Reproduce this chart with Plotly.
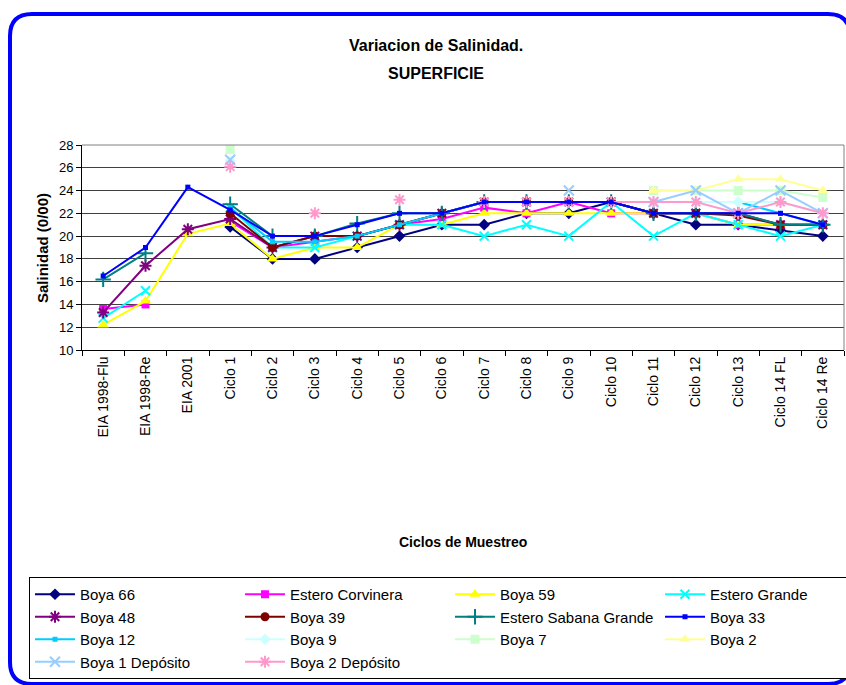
import plotly.graph_objects as go

categories = ["EIA 1998-Flu", "EIA 1998-Re", "EIA 2001", "Ciclo 1", "Ciclo 2", "Ciclo 3",
              "Ciclo 4", "Ciclo 5", "Ciclo 6", "Ciclo 7", "Ciclo 8", "Ciclo 9", "Ciclo 10",
              "Ciclo 11", "Ciclo 12", "Ciclo 13", "Ciclo 14 FL", "Ciclo 14 Re"]
N = None
boya_66 = [N, N, N, 20.8, 18, 18, 19, 20, 21, 21, 22, 22, 23, 22, 21, 21, 20.5, 20]
estero_corvinera = [13.6, 14, N, 21.3, 19, 19.5, 20, 21, 21.5, 22.5, 22, 23, 22, 22, 22, 21, 21, 21]
boya_59 = [12.2, 14.3, 20.2, 21.1, 18, 19, 19, 21, 21, 22, 22, 22, 22, 22, 22, 21, 21, 21]
estero_grande = [12.8, 15.2, N, 22.5, 19, 19, 20, 21, 21, 20, 21, 20, 23, 20, 22, 21, 20, 21]
boya_48 = [13.3, 17.4, 20.6, 21.5, 19, 20, 20, 21, 22, 23, 23, 23, 23, 22, 22, 22, 21, 21]
boya_39 = [N, N, N, 22, 19, 20, 20, 21, 22, 23, 23, 23, 23, 22, 22, 21.8, 21, 21]
estero_sabana_grande = [16.2, 18.5, N, 22.8, 20, 20, 21.1, 22, 22, 23, 23, 23, 23, 22, 22, 22, 21, 21]
boya_33 = [16.5, 19, 24.3, 22.3, 20, 20, 21, 22, 22, 23, 23, 23, 23, 22, 22, 22, 22, 21]
boya_12 = [N, N, N, 22.5, 19.5, 19.5, 20, 21, 22, 23, 23, 23, 23, 23, 23, 23, 22, 21]
boya_9 = [N, N, N, 26.6, N, N, N, N, N, N, N, N, N, 23, 23, 23, 23, 22]
boya_7 = [N, N, N, 27.6, N, N, N, N, N, N, N, N, N, 24, 24, 24, 24, 23.4]
boya_2 = [N, N, N, N, N, N, N, N, N, N, N, N, N, 24, 24, 25, 25, 24]
boya_1_deposito = [N, N, N, 26.7, N, N, N, N, N, N, N, 24, N, 23, 24, 22, 24, 22]
boya_2_deposito = [N, N, N, 26.1, N, 22, N, 23.2, N, 23, 23, 23, 23, 23, 23, 22, 23, 22]

series = [
    ("Boya 66", boya_66, "#000080", "diamond", 9),
    ("Estero Corvinera", estero_corvinera, "#FF00FF", "square", 8),
    ("Boya 59", boya_59, "#FFFF00", "triangle-up", 10),
    ("Estero Grande", estero_grande, "#00FFFF", "x-thin-open", 9),
    ("Boya 48", boya_48, "#800080", "asterisk-open", 10),
    ("Boya 39", boya_39, "#800000", "circle", 9),
    ("Estero Sabana Grande", estero_sabana_grande, "#008080", "cross-thin-open", 11),
    ("Boya 33", boya_33, "#0000FF", "square", 5),
    ("Boya 12", boya_12, "#00CCFF", "square", 5),
    ("Boya 9", boya_9, "#CCFFFF", "diamond", 9),
    ("Boya 7", boya_7, "#CCFFCC", "square", 9),
    ("Boya 2", boya_2, "#FFFF99", "triangle-up", 10),
    ("Boya 1 Depósito", boya_1_deposito, "#99CCFF", "x-thin-open", 10),
    ("Boya 2 Depósito", boya_2_deposito, "#FF99CC", "asterisk-open", 10),
]
# draw Boya 33 last (on top), keep legend order via legendrank
draw_order = [i for i in range(len(series)) if series[i][0] != "Boya 33"] + \
             [i for i in range(len(series)) if series[i][0] == "Boya 33"]

W, H = 846, 685
L, R, T, B = 82, 2, 145, 335
PW, PH = W - L - R, H - T - B

def px(x):
    return (x - L) / PW

def py(y):
    return (H - B - y) / PH

FONT = "Liberation Sans, Arial, sans-serif"

fig = go.Figure()
for i in draw_order:
    name, vals, color, sym, size = series[i]
    open_sym = sym.endswith("open")
    fig.add_trace(go.Scatter(
        x=categories, y=vals, name=name, mode="lines+markers",
        line=dict(color=color, width=2),
        marker=dict(symbol=sym, size=size, color=color,
                    line=dict(color=color, width=2 if open_sym else 0)),
        connectgaps=False, legendrank=1000 + i,
    ))

# outer rounded blue frame
l0, t0, r0, b0, rad = 10, 14, 850, 684, 22
path = (f"M {px(l0)},{py(t0 + rad)} Q {px(l0)},{py(t0)} {px(l0 + rad)},{py(t0)} "
        f"L {px(r0 - rad)},{py(t0)} Q {px(r0)},{py(t0)} {px(r0)},{py(t0 + rad)} "
        f"L {px(r0)},{py(b0 - rad)} Q {px(r0)},{py(b0)} {px(r0 - rad)},{py(b0)} "
        f"L {px(l0 + rad)},{py(b0)} Q {px(l0)},{py(b0)} {px(l0)},{py(b0 - rad)} Z")
fig.add_shape(type="path", path=path, xref="paper", yref="paper",
              line=dict(color="#0000FF", width=4), layer="below")
# gray top/right plot border
fig.add_shape(type="line", xref="paper", yref="paper", x0=0, x1=1, y0=1, y1=1,
              line=dict(color="#808080", width=1))
fig.add_shape(type="line", xref="paper", yref="paper", x0=1, x1=1, y0=0, y1=1,
              line=dict(color="#808080", width=1))

def label(text, x, y, size, angle=0):
    fig.add_annotation(text=text, xref="paper", yref="paper", x=px(x), y=py(y),
                       xanchor="center", yanchor="middle", showarrow=False,
                       textangle=angle, font=dict(family=FONT, size=size, color="black"))

label("<b>Variacion de Salinidad.</b>", 436, 45, 16)
label("<b>SUPERFICIE</b>", 436, 74, 16)
label("<b>Salinidad (0/00)</b>", 42, 248, 15, -90)
label("<b>Ciclos de Muestreo</b>", 463, 542, 14)

fig.update_layout(
    width=W, height=H,
    margin=dict(l=L, r=R, t=T, b=B, autoexpand=False),
    paper_bgcolor="white", plot_bgcolor="white",
    font=dict(family=FONT, color="black"),
    showlegend=True,
    legend=dict(
        orientation="h", x=px(29), y=py(577), xanchor="left", yanchor="top",
        entrywidth=155, entrywidthmode="pixels",
        bordercolor="black", borderwidth=1, bgcolor="white",
        font=dict(family=FONT, size=15, color="black"),
        itemwidth=40, traceorder="normal",
    ),
    xaxis=dict(
        type="category", tickson="boundaries", ticks="outside", ticklen=5,
        tickcolor="black", showline=True, linecolor="black", linewidth=1,
        showgrid=False, tickangle=-90,
        tickfont=dict(family=FONT, size=14, color="black"),
        range=[-0.5, len(categories) - 0.5],
    ),
    yaxis=dict(
        range=[10, 28], dtick=2, tick0=10, ticks="outside", ticklen=5,
        tickcolor="black", showline=True, linecolor="black", linewidth=1,
        showgrid=True, gridcolor="#404040", gridwidth=1, zeroline=False,
        tickfont=dict(family=FONT, size=13, color="black"),
    ),
)

fig.write_html("out.html", config={"displayModeBar": False},
               post_script="document.body.style.margin='0';document.body.style.overflow='hidden';")
